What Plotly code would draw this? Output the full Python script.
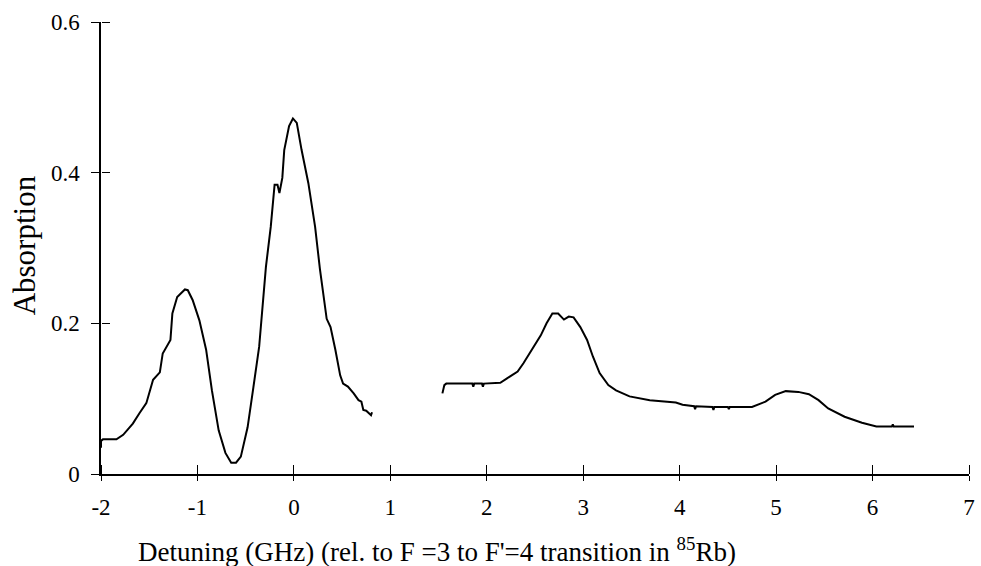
import plotly.graph_objects as go

# Absorption spectrum, blue-side scan (GHz, absorption)
scan_a_ghz = [-2.00, -2.00, -1.98, -1.84, -1.77, -1.67, -1.60, -1.53, -1.46, -1.39,
              -1.36, -1.32, -1.28, -1.26, -1.21, -1.13, -1.10, -1.05, -0.98, -0.91,
              -0.85, -0.78, -0.71, -0.65, -0.60, -0.55, -0.48, -0.42, -0.36, -0.29,
              -0.24, -0.20, -0.17, -0.15, -0.12, -0.10, -0.05, -0.01, 0.03, 0.08,
              0.15, 0.22, 0.27, 0.34, 0.38, 0.43, 0.48, 0.51, 0.56, 0.62,
              0.67, 0.70, 0.72, 0.75, 0.78, 0.80, 0.81]
scan_a_abs = [0.035, 0.044, 0.046, 0.046, 0.052, 0.067, 0.081, 0.094, 0.125, 0.135,
              0.160, 0.169, 0.178, 0.213, 0.235, 0.245, 0.244, 0.231, 0.204, 0.165,
              0.111, 0.058, 0.028, 0.015, 0.015, 0.023, 0.062, 0.115, 0.169, 0.275,
              0.328, 0.384, 0.384, 0.373, 0.393, 0.430, 0.462, 0.472, 0.466, 0.430,
              0.386, 0.328, 0.272, 0.206, 0.195, 0.165, 0.131, 0.120, 0.116, 0.107,
              0.098, 0.096, 0.085, 0.084, 0.081, 0.078, 0.082]

# Absorption spectrum, red-side scan
scan_b_ghz = [1.54, 1.56, 1.58, 1.70, 1.85, 1.86, 1.87, 1.95, 1.96, 1.97, 2.14,
              2.21, 2.32, 2.38, 2.47, 2.56, 2.62, 2.68, 2.74, 2.80, 2.85,
              2.90, 2.97, 3.04, 3.10, 3.17, 3.26, 3.34, 3.48, 3.69, 3.96,
              4.03, 4.15, 4.16, 4.17, 4.34, 4.35, 4.36, 4.50, 4.51, 4.52, 4.75,
              4.89, 4.99, 5.10, 5.23, 5.34, 5.44, 5.54, 5.71, 5.89, 6.04,
              6.20, 6.21, 6.22, 6.43]
scan_b_abs = [0.107, 0.118, 0.120, 0.120, 0.120, 0.116, 0.120, 0.120, 0.116, 0.120, 0.121,
              0.127, 0.136, 0.147, 0.165, 0.184, 0.200, 0.213, 0.213, 0.205, 0.209,
              0.208, 0.195, 0.178, 0.156, 0.134, 0.118, 0.111, 0.103, 0.098, 0.095,
              0.092, 0.090, 0.086, 0.090, 0.089, 0.085, 0.089, 0.089, 0.086, 0.089, 0.089,
              0.096, 0.105, 0.110, 0.109, 0.106, 0.098, 0.087, 0.076, 0.068, 0.063,
              0.063, 0.066, 0.063, 0.063]

x_ticks = [-2, -1, 0, 1, 2, 3, 4, 5, 6, 7]
x_tick_text = ["-2", "-1", "0", "1", "2", "3", "4", "5", "6", "7"]
y_ticks = [0, 0.2, 0.4, 0.6]
y_tick_text = ["0", "0.2", "0.4", "0.6"]

serif = "Liberation Serif, Times New Roman, serif"
line_style = dict(color="black", width=2)

fig = go.Figure()
fig.add_trace(go.Scatter(x=scan_a_ghz, y=scan_a_abs, mode="lines", line=line_style,
                         showlegend=False, hoverinfo="skip"))
# second scan sits on the overlay axes, which carry the inner half of the cross ticks
fig.add_trace(go.Scatter(x=scan_b_ghz, y=scan_b_abs, mode="lines", line=line_style,
                         xaxis="x2", yaxis="y2", showlegend=False, hoverinfo="skip"))

tick_font = dict(family=serif, size=23, color="black")

fig.update_layout(
    width=981, height=566,
    margin=dict(l=101, r=6, t=22, b=92),
    paper_bgcolor="white", plot_bgcolor="white",
    xaxis=dict(range=[-2, 7], tickvals=x_ticks, ticktext=x_tick_text, ticks="outside",
               ticklen=5, tickwidth=1.2, tickcolor="black", showline=True,
               linecolor="black", linewidth=1.5, showgrid=False, zeroline=False,
               tickfont=tick_font, ticklabelstandoff=7, fixedrange=True),
    yaxis=dict(range=[0, 0.6], tickvals=y_ticks, ticktext=y_tick_text,
               ticks="outside", ticklen=8, tickwidth=1.2, tickcolor="black",
               showline=True, linecolor="black", linewidth=1.5, showgrid=False,
               zeroline=False, tickfont=tick_font, ticklabelstandoff=7,
               fixedrange=True),
    # upward-pointing ticks along the bottom edge
    xaxis2=dict(range=[-2, 7], tickvals=x_ticks, side="top", anchor="free",
                position=0, ticks="outside", ticklen=9, tickwidth=1.2,
                tickcolor="black", showticklabels=False, showline=False,
                showgrid=False, zeroline=False, overlaying="x", fixedrange=True),
    # rightward-pointing ticks along the left edge
    yaxis2=dict(range=[0, 0.6], tickvals=y_ticks, side="right", anchor="free",
                position=0, ticks="outside", ticklen=8, tickwidth=1.2,
                tickcolor="black", showticklabels=False, showline=False,
                showgrid=False, zeroline=False, overlaying="y", fixedrange=True),
    annotations=[
        dict(text="Absorption", textangle=-90, xref="paper", yref="paper",
             x=-0.088, y=0.505, xanchor="center", yanchor="middle", showarrow=False,
             font=dict(family=serif, size=31, color="black")),
        dict(text="Detuning (GHz) (rel. to F =3 to F'=4 transition in <sup>85</sup>Rb)",
             xref="paper", yref="paper", x=0.387, y=-0.168, xanchor="center",
             yanchor="middle", showarrow=False,
             font=dict(family=serif, size=27, color="black")),
    ],
)

fig.write_html("out.html")
